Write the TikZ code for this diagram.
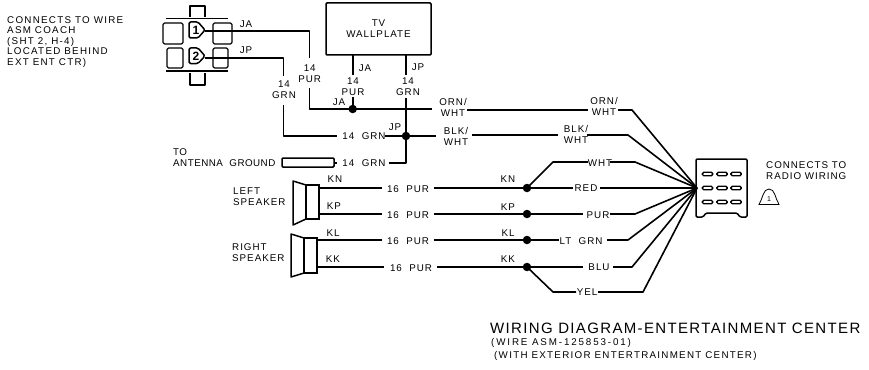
\documentclass[tikz,border=0pt]{standalone}
\usepackage{fontspec}
\newfontfamily\cad[LetterSpace=10]{Liberation Sans}
\newfontfamily\cadw[LetterSpace=13]{Liberation Sans}
\newfontfamily\cadn[LetterSpace=5]{Liberation Sans}
\newfontfamily\cadx[LetterSpace=19]{Liberation Sans}
\newfontfamily\cadt[LetterSpace=9]{Liberation Sans}
\tikzset{
  wire/.style={line width=1.6pt,line join=round},
  thin part/.style={line width=1.1pt,line join=round},
  lab/.style={inner sep=0pt,font=\cad\fontsize{9.8}{11}\selectfont,align=center},
  labl/.style={lab,align=left,anchor=west},
  dot/.style={circle,fill=black,inner sep=0pt,minimum size=8.5pt},
  pin/.style={draw,line width=1.4pt,rounded corners=1.5pt,minimum width=10.5pt,minimum height=3.5pt,inner sep=0pt},
}
\begin{document}
\begin{tikzpicture}[x=1pt,y=-1pt]
\useasboundingbox (0,0) rectangle (869,369);
% junctions
\node[dot] (dJA) at (352.7,109) {};
\node[dot] (dJP) at (406,136) {};
\node[dot] (dKN) at (527,188) {};
\node[dot] (dKP) at (527,214) {};
\node[dot] (dKL) at (527,240) {};
\node[dot] (dKK) at (527,267) {};
\coordinate (conv) at (697,188);
% plug
\begin{scope}[thin part]
\draw (190,17) -- (190,6) -- (205,6) -- (205,17);
\draw (190,73) -- (190,85) -- (205,85) -- (205,73);
\draw[line width=1.5pt] (166,18.5) -- (228,18.5);
\draw[line width=1.5pt] (166,71) -- (228,71);
\draw[rounded corners=1.5pt] (183,23) -- (163,23) -- (163,44) -- (183,44) -- cycle;
\draw[rounded corners=1.5pt] (213,23) -- (232,23) -- (232,44) -- (213,44) -- cycle;
\draw[rounded corners=1.5pt] (183,48) -- (167,48) -- (167,68) -- (183,68) -- cycle;
\draw[rounded corners=1.5pt] (213,48) -- (228,48) -- (228,68) -- (213,68) -- cycle;
\draw[fill=white,line width=1.5pt,rounded corners=1.5pt] (189,22) -- (198,22) -- (205,30) -- (198,38) -- (189,38) -- cycle;
\draw[fill=white,line width=1.5pt,rounded corners=1.5pt] (189,48) -- (198,48) -- (205,56) -- (198,63.5) -- (189,63.5) -- cycle;
\end{scope}
\node[lab,font=\bfseries\cad\fontsize{12}{12}\selectfont] (p1) at (196,30) {1};
\node[lab,font=\bfseries\cad\fontsize{12}{12}\selectfont] (p2) at (196,56) {2};
\coordinate (pinA) at (205,31);
\coordinate (pinB) at (205,58);
% TV
\node[draw,line width=1.5pt,rounded corners=1pt,minimum width=105pt,minimum height=52pt,inner sep=0pt,lab] (tv) at (378.5,29) {TV\\WALLPLATE};
% antenna
\node[draw,line width=1.5pt,rounded corners=1pt,minimum width=52pt,minimum height=9pt,inner sep=0pt] (ant) at (308,162.5) {};
% speakers
\draw[line width=1.5pt,line join=round] (293,181) -- (306,185) -- (306,219) -- (293,225) -- cycle;
\node[draw,line width=1.5pt,minimum width=13pt,minimum height=34pt,inner sep=0pt] (spL) at (312.5,202) {};
\draw[line width=1.5pt,line join=round] (291,234) -- (304,238) -- (304,273) -- (291,277) -- cycle;
\node[draw,line width=1.5pt,minimum width=13pt,minimum height=35pt,inner sep=0pt] (spR) at (310.5,255.5) {};
% radio connector
\draw[line width=1.5pt,rounded corners=1.2pt] (696,159) -- (747,159) -- (747,217) -- (740,217) -- (737,213) -- (706,213) -- (703,217) -- (696,217) -- cycle;
\foreach \r in {174,188,202}{
  \node[pin] at (707.5,\r) {};
  \node[pin] at (722,\r) {};
  \node[pin] at (736,\r) {};
}
% dome
\draw[line width=.8pt] (759,204.5) .. controls (763,198) and (763,189) .. (769,189) .. controls (775,189) and (775,198) .. (779,204.5) -- cycle;
\node[lab] (dome) at (769,199) {\fontsize{7}{7}\selectfont 1};
% wires
\begin{scope}[wire]
\draw (pinA) -- (309.5,31) -- (309.5,58);
\draw (309.5,88) -- (309.5,109) -- (dJA.center) -- (432,109);
\draw (pinB) -- (283.5,58) -- (283.5,76);
\draw (283.5,105) -- (283.5,136) -- (337,136);
\draw (352.7,55) -- (352.7,75);
\draw (352.7,97) -- (dJA.center);
\draw (406,55) -- (406,75);
\draw (406,98) -- (dJP.center) -- (406,163) -- (389,163);
\draw (385,136) -- (dJP.center) -- (436,136);
\draw (334,163) -- (337,163);
\draw (467,110) -- (588,110);
\draw (618,110) -- (632,110) -- (conv);
\draw (472,135) -- (558,135);
\draw (587,135) -- (628,135) -- (conv);
\draw (319,188) -- (382,188);
\draw (434,188) -- (dKN.center);
\draw (319,214) -- (382,214);
\draw (434,214) -- (dKP.center);
\draw (317,240) -- (382,240);
\draw (434,240) -- (dKL.center);
\draw (317,267) -- (384,267);
\draw (437,267) -- (dKK.center);
\draw (dKN.center) -- (553,162) -- (588,162);
\draw (610,162) -- (635,162) -- (conv);
\draw (dKN.center) -- (573,188);
\draw (600,188) -- (conv);
\draw (dKP.center) -- (583,214);
\draw (610,214) -- (635,214) -- (conv);
\draw (dKL.center) -- (559,240);
\draw (607,240) -- (628,240) -- (conv);
\draw (dKK.center) -- (583,267);
\draw (613,267) -- (632,267) -- (conv);
\draw (dKK.center) -- (553,292) -- (576,292);
\draw (598,292) -- (643,292) -- (conv);
\end{scope}
% labels
\node[labl,font=\cadw\fontsize{9.8}{10.5}\selectfont] (t1) at (7,42) {CONNECTS TO WIRE\\ASM COACH\\(SHT 2, H-4)\\LOCATED BEHIND\\EXT ENT CTR)};
\node[lab] at (246,24) {JA};
\node[lab] at (246,50) {JP};
\node[lab] at (309.7,74) {14\\PUR};
\node[lab] at (284,90) {14\\GRN};
\node[lab] at (365,68) {JA};
\node[lab] at (418,67) {JP};
\node[lab] at (353,87) {14\\PUR};
\node[lab] at (408,87) {14\\GRN};
\node[lab] at (339,102) {JA};
\node[lab] at (395,127) {JP};
\node[lab] at (364,136) {14\ \ GRN};
\node[lab] at (364,163) {14\ \ GRN};
\node[labl,font=\cadn\fontsize{9.8}{11}\selectfont] at (173,157.5) {TO\\ANTENNA\ \ GROUND};
\node[lab] at (453,107.5) {ORN/\\WHT};
\node[lab] at (456,136) {BLK/\\WHT};
\node[lab] at (604,106) {ORN/\\WHT};
\node[lab] at (576,134.5) {BLK/\\WHT};
\node[labl] at (233,196.5) {LEFT\\SPEAKER};
\node[labl] at (232,252.5) {RIGHT\\SPEAKER};
\node[lab] at (335,179) {KN};
\node[lab] at (334,206) {KP};
\node[lab] at (333,233) {KL};
\node[lab] at (333,259) {KK};
\node[lab] at (408,189) {16\ \ PUR};
\node[lab] at (408,215) {16\ \ PUR};
\node[lab] at (408,241) {16\ \ PUR};
\node[lab] at (411,268) {16\ \ PUR};
\node[lab] at (508,179) {KN};
\node[lab] at (508,207) {KP};
\node[lab] at (508,233) {KL};
\node[lab] at (508,259) {KK};
\node[lab] at (600,163) {WHT};
\node[lab] at (586,188) {RED};
\node[lab] at (598,215) {PUR};
\node[lab] at (581,241) {LT\ \ GRN};
\node[lab] at (599,267) {BLU};
\node[lab] at (587,292) {YEL};
\node[labl] at (766,170.5) {CONNECTS TO\\RADIO WIRING};
\node[inner sep=0pt,anchor=west,font=\cadt\fontsize{15}{15}\selectfont] at (490,328) {WIRING DIAGRAM-ENTERTAINMENT CENTER};
\node[labl,font=\cadx\fontsize{9.8}{11}\selectfont] at (491,343) {(WIRE ASM-125853-01)};
\node[labl,font=\cadw\fontsize{9.8}{11}\selectfont] at (494,356) {(WITH EXTERIOR ENTERTRAINMENT CENTER)};
\end{tikzpicture}
\end{document}
